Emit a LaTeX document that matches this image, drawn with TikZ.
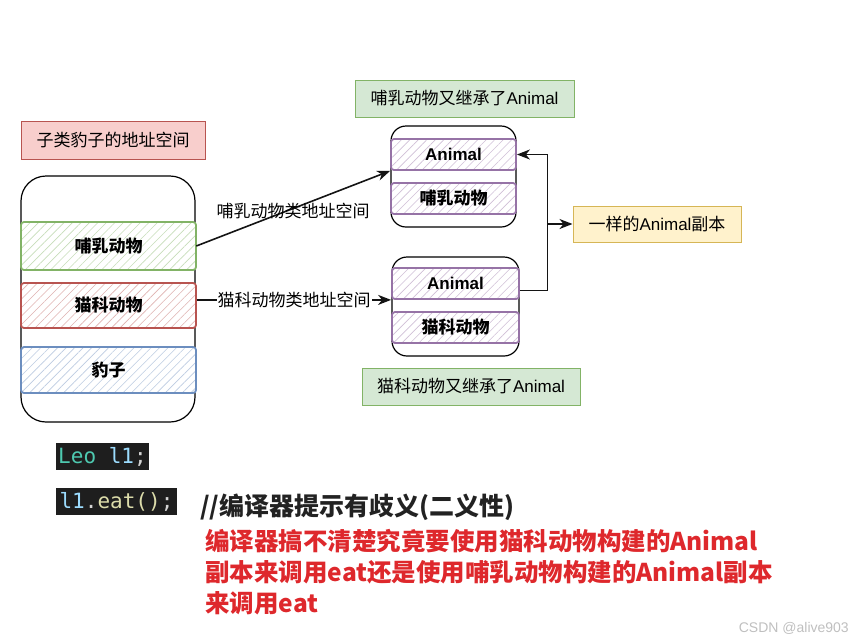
\documentclass[tikz,border=0pt]{standalone}
\usepackage{fontspec}
\setmainfont{Liberation Sans}
\newfontfamily\cjk{Noto Sans CJK SC}
\newfontfamily\codefont{DejaVu Sans Mono}
\usetikzlibrary{patterns.meta,arrows.meta}
\definecolor{redfill}{HTML}{F8CECC}
\definecolor{redline}{HTML}{B85450}
\definecolor{greenfill}{HTML}{D5E8D4}
\definecolor{greenline}{HTML}{82B366}
\definecolor{blueline}{HTML}{6C8EBF}
\definecolor{purpleline}{HTML}{9673A6}
\definecolor{yellowfill}{HTML}{FFF2CC}
\definecolor{yellowline}{HTML}{D6B656}
\definecolor{codebg}{RGB}{30,30,30}
\definecolor{cteal}{RGB}{78,201,176}
\definecolor{cblue}{RGB}{156,220,254}
\definecolor{cyel}{RGB}{220,220,170}
\definecolor{cwhite}{RGB}{212,212,212}
\definecolor{warnred}{RGB}{222,40,44}
\definecolor{darktext}{RGB}{34,34,34}
\definecolor{conn}{RGB}{20,20,20}
\tikzset{
  lbl/.style={draw=#1line, fill=#1fill, line width=1pt, inner sep=0pt,
    font=\fontsize{17}{20}\selectfont},
  hatchbox/.style={draw=#1, line width=1.8pt, rounded corners=3pt, inner sep=0pt,
    preaction={fill=white},
    pattern={Lines[angle=45,distance=6pt,line width=0.6pt]}, pattern color=#1!45,
    font=\fontsize{17}{20}\selectfont\bfseries},
  container/.style={draw=black, line width=1.2pt, inner sep=0pt},
  arr/.style={draw=conn, line width=1.6pt, -{Stealth[length=13pt,width=10pt,inset=4pt]}},
  codebox/.style={fill=codebg, inner sep=0pt, font=\fontsize{21}{24}\codefont},
}
\begin{document}
\begin{tikzpicture}[x=1pt,y=-1pt]
\useasboundingbox (0,0) rectangle (858,643);
% left side
\node[lbl=red, minimum width=184pt, minimum height=38pt] (title) at (113,140) {\cjk 子类豹子的地址空间};
\node[container, rounded corners=25pt, minimum width=174pt, minimum height=246pt] (big) at (108,299) {};
\node[hatchbox=greenline, minimum width=175pt, minimum height=48pt] (mam) at (108.5,246) {\cjk 哺乳动物};
\node[hatchbox=redline, minimum width=175pt, minimum height=45pt] (cat) at (108.5,305.5) {\cjk 猫科动物};
\node[hatchbox=blueline, minimum width=175pt, minimum height=46pt] (leo) at (108.5,370) {\cjk 豹子};
% right top
\node[lbl=green, minimum width=219pt, minimum height=37pt] (toplbl) at (464.5,98.5) {{\cjk 哺乳动物又继承了}Animal};
\node[container, rounded corners=15pt, minimum width=125pt, minimum height=101pt] (topc) at (453.5,176.5) {};
\node[hatchbox=purpleline, minimum width=125pt, minimum height=31pt] (an1) at (453.5,154.5) {Animal};
\node[hatchbox=purpleline, minimum width=125pt, minimum height=31pt] (mam2) at (453.5,198.5) {\cjk 哺乳动物};
% right bottom
\node[container, rounded corners=15pt, minimum width=127pt, minimum height=99pt] (botc) at (455.5,306.5) {};
\node[hatchbox=purpleline, minimum width=127pt, minimum height=31pt] (an2) at (455.5,283.5) {Animal};
\node[hatchbox=purpleline, minimum width=127pt, minimum height=31pt] (cat2) at (455.5,327.5) {\cjk 猫科动物};
\node[lbl=green, minimum width=218pt, minimum height=37pt] (botlbl) at (471,386.5) {{\cjk 猫科动物又继承了}Animal};
% yellow
\node[lbl=yellow, minimum width=168pt, minimum height=36pt] (copy) at (657,224) {{\cjk 一样的}Animal{\cjk 副本}};
% connectors
\draw[arr] (mam.east) -- (an1.south west);
\node[font=\fontsize{17}{20}\selectfont\cjk, inner sep=0pt] (l1) at (293,211) {哺乳动物类地址空间};
\coordinate (s2) at (cat.east |- an2.south west);
\draw[arr] (s2) -- node[fill=white, inner sep=1pt, font=\fontsize{17}{20}\selectfont\cjk] (l2) {猫科动物类地址空间} (an2.south west);
\coordinate (bus) at ([xshift=-25pt]copy.west);
\draw[arr] ([yshift=-7pt]an2.east) -| (bus) |- (an1.east);
\draw[arr] (bus) -- (copy.west);
% code
\node[codebox, minimum width=93pt, minimum height=27pt] (code1) at (102.5,456.5)
  {\textcolor{cteal}{Leo} \textcolor{cblue}{l1}\textcolor{cwhite}{;}};
\node[codebox, minimum width=121pt, minimum height=27pt] (code2) at (116.5,501.5)
  {\textcolor{cblue}{l1}\textcolor{cwhite}{.}\textcolor{cyel}{eat()}\textcolor{cwhite}{;}};
\node[anchor=west, inner sep=0pt, text=darktext, font=\fontsize{25}{30}\selectfont\cjk\bfseries] (cmt) at (200,507) {//编译器提示有歧义(二义性)};
\node[anchor=west, inner sep=0pt, align=left, text=warnred, font=\fontsize{24.5}{31}\selectfont\cjk\bfseries] (warn) at (205,572)
  {编译器搞不清楚究竟要使用猫科动物构建的Animal\\副本来调用eat还是使用哺乳动物构建的Animal副本\\来调用eat};
\node[anchor=east, inner sep=0pt, text=black!25, font=\fontsize{14}{16}\selectfont] (wm) at (849,628) {CSDN @alive903};
\end{tikzpicture}
\end{document}
